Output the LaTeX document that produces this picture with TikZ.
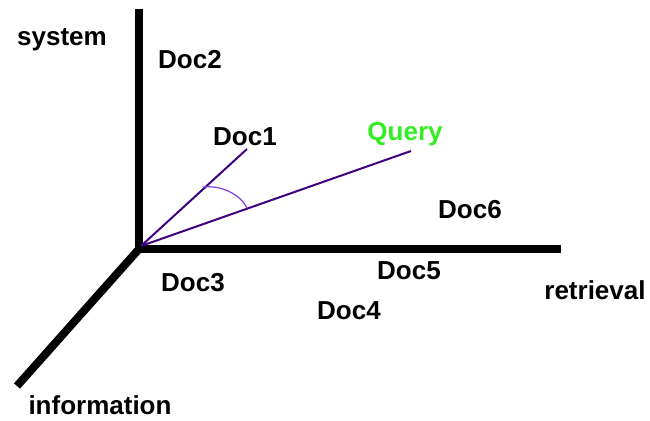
\documentclass[tikz,border=0pt]{standalone}
\usepackage{fontspec}
\setmainfont{Liberation Sans}
\definecolor{vecpurple}{HTML}{400080}
\definecolor{arcpurple}{HTML}{8040E0}
\definecolor{querygreen}{HTML}{33EE22}
\begin{document}
\begin{tikzpicture}[x=1pt,y=-1pt,
  lbl/.style={font=\fontsize{26}{29}\selectfont\bfseries, inner sep=0pt, text=black},
  axis/.style={line width=8pt, black},
  vec/.style={line width=2pt, vecpurple},
  anglearc/.style={line width=1.2pt, arcpurple}]
\useasboundingbox (0,0) rectangle (650,420);
\fill[white] (0,0) rectangle (650,420);
% axes
\coordinate (O) at (139,249);
\coordinate (Otop) at (139,249);
\coordinate (ytop) at (139,9);
\coordinate (xend) at (561,249);
\coordinate (xstart) at (135,249);
\coordinate (zend) at (17,386);
\draw[axis] (Otop) -- (ytop);
\draw[axis] (xstart) -- (xend);
\draw[axis] (O) -- (zend);
% vectors
\coordinate (V) at (141,246);
\coordinate (d1) at (247,149);
\coordinate (q) at (411,151);
\draw[vec] (V) -- (d1);
\draw[vec] (V) -- (q);
\coordinate (a1) at (203,187);
\coordinate (a2) at (247,208);
\draw[anglearc] (a1) .. controls (221,185) and (240,194) .. (a2);
% labels
\node[lbl] (system) at (62,40) {system};
\node[lbl] (doc2) at (190,60) {Doc2};
\node[lbl] (doc1) at (245,137) {Doc1};
\node[lbl, text=querygreen] (query) at (405,134) {Query};
\node[lbl] (doc6) at (470,210) {Doc6};
\node[lbl] (doc3) at (193,283) {Doc3};
\node[lbl] (doc5) at (409,271) {Doc5};
\node[lbl] (doc4) at (349,311) {Doc4};
\node[lbl] (retrieval) at (595,290) {retrieval};
\node[lbl] (information) at (100,405) {information};
\end{tikzpicture}
\end{document}
